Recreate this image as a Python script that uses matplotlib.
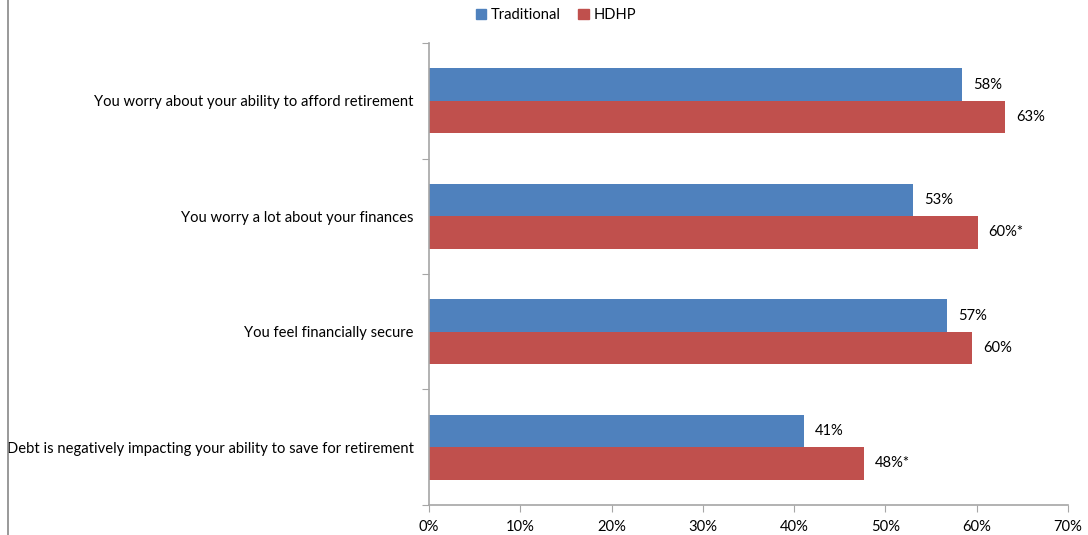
import numpy as np
import matplotlib
matplotlib.use('Agg')
from matplotlib import pyplot as plt
from matplotlib.lines import Line2D
from matplotlib.patches import Patch

plt.rcParams['font.family'] = ['Lato', 'DejaVu Sans']

categories = ['You worry about your ability to afford retirement',
              'You worry a lot about your finances',
              'You feel financially secure',
              'Debt is negatively impacting your ability to save for retirement']
traditional = [58.4, 53.0, 56.7, 41.1]
hdhp = [63.1, 60.1, 59.5, 47.6]
trad_labels = ['58%', '53%', '57%', '41%']
hdhp_labels = ['63%', '60%*', '60%', '48%*']

blue = '#4F81BD'
red = '#C0504D'
grey = '#A6A6A6'
fs = 10.6

fig = plt.figure(figsize=(10.88, 5.35), dpi=100)
ax = fig.add_axes([0.3943, 0.0561, 0.5873, 0.8635])

n = len(categories)
y = np.arange(n)[::-1]  # first category at top
h = 0.28
ax.barh(y + h / 2, traditional, height=h, color=blue)
ax.barh(y - h / 2, hdhp, height=h, color=red)

for yi, v, lab in zip(y, traditional, trad_labels):
    ax.annotate(lab, (v, yi + h / 2), xytext=(8, 0), textcoords='offset points',
                va='center', ha='left', fontsize=fs)
for yi, v, lab in zip(y, hdhp, hdhp_labels):
    ax.annotate(lab, (v, yi - h / 2), xytext=(8, 0), textcoords='offset points',
                va='center', ha='left', fontsize=fs)

ax.set_xlim(0, 70)
ax.set_ylim(-0.5, n - 0.5)
ax.set_xticks(np.arange(0, 71, 10))
ax.set_xticklabels([f'{t}%' for t in range(0, 71, 10)], fontsize=fs)
ax.set_yticks(np.arange(-0.5, n, 1.0))
ax.set_yticklabels([])
ax.set_yticks(y, minor=True)
ax.set_yticklabels(categories, minor=True, fontsize=fs)
ax.tick_params(axis='y', which='minor', length=0, pad=11)
ax.tick_params(axis='y', which='major', length=5, color=grey, direction='out')
ax.tick_params(axis='x', length=5, color=grey, direction='out', pad=6)

for s in ['top', 'right']:
    ax.spines[s].set_visible(False)
for s in ['left', 'bottom']:
    ax.spines[s].set_color(grey)
    ax.spines[s].set_linewidth(1.2)

handles = [Patch(color=blue, label='Traditional'), Patch(color=red, label='HDHP')]
fig.legend(handles=handles, loc='center', bbox_to_anchor=(0.511, 0.972), ncol=2,
           frameon=False, fontsize=fs, handlelength=0.7, handleheight=0.7,
           handletextpad=0.3, columnspacing=1.2)

fig.add_artist(Line2D([0.0069, 0.0069], [0, 1], color='#888888', lw=1.2,
                      transform=fig.transFigure))

fig.savefig('out.png', dpi=100)
